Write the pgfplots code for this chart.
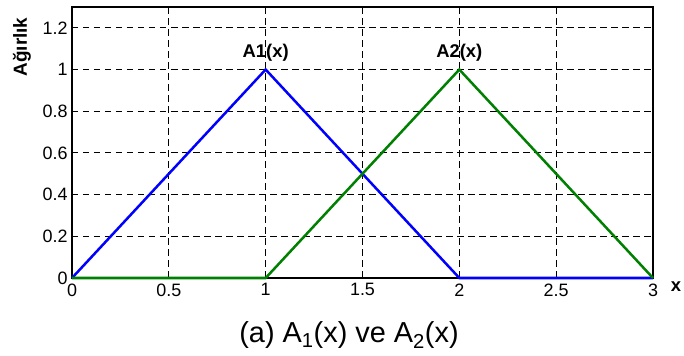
\documentclass[border=0pt]{standalone}
\usepackage{fontspec}
\setmainfont{Liberation Sans}
\usepackage{pgfplots}
\pgfplotsset{compat=1.18}
\definecolor{mgreen}{RGB}{0,128,0}
\begin{document}
\begin{tikzpicture}[x=1bp,y=1bp]
\path[use as bounding box] (-72bp,-78bp) rectangle (612bp,278bp);
\begin{axis}[
  at={(0,0)}, anchor=south west,
  scale only axis,
  width=581bp, height=271bp,
  xmin=0, xmax=3, ymin=0, ymax=1.3,
  xtick={0,0.5,1,1.5,2,2.5,3},
  ytick={0,0.2,0.4,0.6,0.8,1,1.2},
  xticklabels={0,0.5,1,1.5,2,2.5,3},
  yticklabels={0,0.2,0.4,0.6,0.8,1,1.2},
  grid=major,
  major grid style={black, dash pattern=on 6.5bp off 4.5bp, line width=0.9bp},
  major tick length=0pt,
  axis line style={black, line width=1.2bp},
  tick label style={font=\fontsize{18}{21}\selectfont},
  xticklabel style={yshift=-2bp},
  yticklabel style={xshift=-1bp},
  /pgf/number format/assume math mode=true,
  clip=false,
]
% membership function A1
\addplot[blue, line width=2.5bp] coordinates {(0,0) (1,1) (2,0) (3,0)};
% membership function A2
\addplot[mgreen, line width=2.5bp] coordinates {(0,0) (1,0) (2,1) (3,0)};
\node[font=\bfseries\fontsize{18.5}{21}\selectfont] at (axis cs:1,1.081) {A1(x)};
\node[font=\bfseries\fontsize{18.5}{21}\selectfont] at (axis cs:2,1.081) {A2(x)};
\end{axis}
\node[rotate=90, font=\bfseries\fontsize{19}{22}\selectfont] at (-50bp,231bp) {Ağırlık};
\node[font=\bfseries\fontsize{18.5}{21}\selectfont] at (604bp,-9bp) {x};
\node[font=\fontsize{29}{33}\selectfont] at (277bp,-57bp) {(a) A\textsubscript{1}(x) ve A\textsubscript{2}(x)};
\end{tikzpicture}
\end{document}
